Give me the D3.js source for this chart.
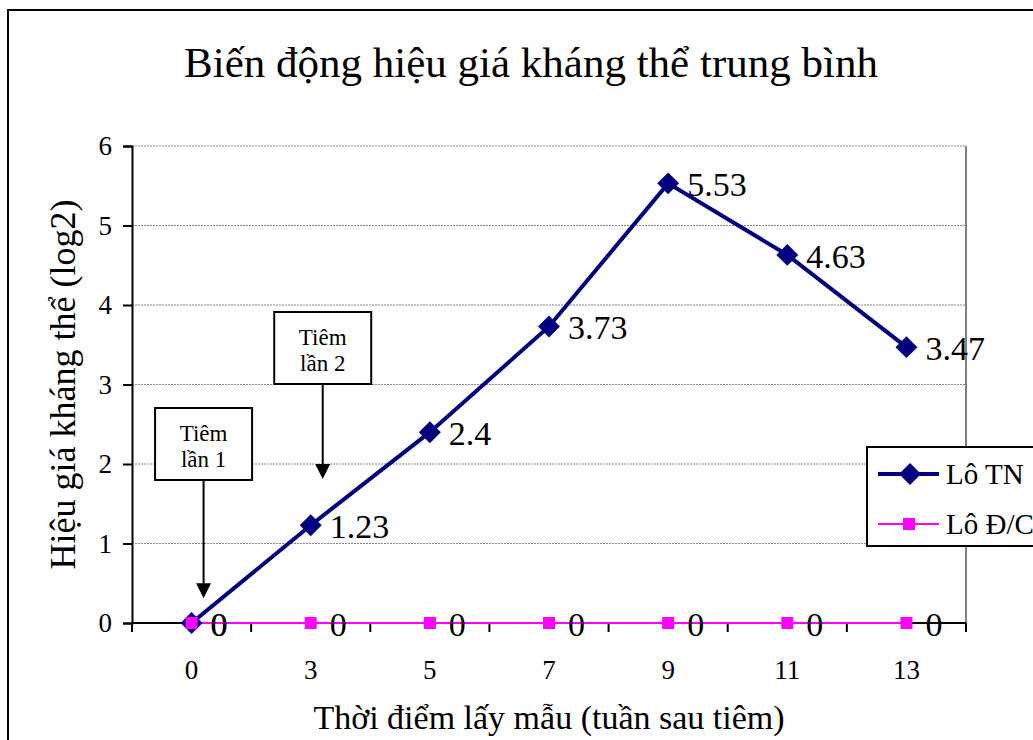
<!DOCTYPE html>
<html>
<head>
<meta charset="utf-8">
<script src="https://cdn.jsdelivr.net/npm/d3@7"></script>
<style>
  html, body { margin: 0; padding: 0; background: #fff; }
  svg { display: block; font-family: "Liberation Serif", "Times New Roman", serif; }
</style>
</head>
<body>
<svg id="chart" width="1033" height="740"></svg>
<script>
// Sampling times (weeks after vaccination)
const weeks = ["0", "3", "5", "7", "9", "11", "13"];
// Mean antibody titre (log2) per group
const loTN = [0, 1.23, 2.4, 3.73, 5.53, 4.63, 3.47];
const loDC = [0, 0, 0, 0, 0, 0, 0];
const yTicks = [0, 1, 2, 3, 4, 5, 6];
const seriesNames = ["Lô TN", "Lô Đ/C"];
// Injection markers: category and the titre level where the arrow points
const injections = [
  { week: "0", label: ["Tiêm", "lần 1"], at: 0.31, boxBottom: 480 },
  { week: "3", label: ["Tiêm", "lần 2"], at: 1.81, boxBottom: 384 }
];

const svg = d3.select("#chart");
const W = 1033, H = 740;

// Outer chart frame (runs off the right/bottom edges)
svg.append("rect")
  .attr("x", 8).attr("y", 10).attr("width", W + 20).attr("height", H + 20)
  .attr("fill", "none").attr("stroke", "#000").attr("stroke-width", 2);

const plot = { left: 132, top: 146, right: 966, bottom: 623 };

const x = d3.scaleBand().domain(weeks).range([plot.left, plot.right]).padding(0);
const y = d3.scaleLinear().domain([0, 6]).range([plot.bottom, plot.top]);
const cx = d => x(d) + x.bandwidth() / 2;

// Title
svg.append("text")
  .attr("x", 531).attr("y", 77)
  .attr("text-anchor", "middle")
  .attr("font-size", 43)
  .text("Biến động hiệu giá kháng thể trung bình");

// Gridlines
svg.append("g")
  .selectAll("line")
  .data(yTicks.filter(d => d > 0))
  .join("line")
  .attr("x1", plot.left).attr("x2", plot.right)
  .attr("y1", d => y(d)).attr("y2", d => y(d))
  .attr("stroke", "#888").attr("stroke-width", 1)
  .attr("stroke-dasharray", "2,1");

// Right border of plot area
svg.append("line")
  .attr("x1", plot.right).attr("x2", plot.right)
  .attr("y1", plot.top).attr("y2", plot.bottom)
  .attr("stroke", "#808080").attr("stroke-width", 2);

// Y axis
const yAxis = svg.append("g")
  .attr("transform", `translate(${plot.left},0)`)
  .call(d3.axisLeft(y).tickValues(yTicks).tickSize(9).tickPadding(11).tickFormat(d3.format("d")));
yAxis.select(".domain").attr("stroke", "#000").attr("stroke-width", 2);
yAxis.selectAll(".tick line").attr("stroke", "#000").attr("stroke-width", 2);
yAxis.selectAll("text").attr("font-size", 27).attr("font-family", "Liberation Serif").attr("fill", "#000");

// X axis: ticks on category boundaries
const boundaries = weeks.map(w => x(w)).concat([plot.right]);
const xg = svg.append("g");
xg.append("line")
  .attr("x1", plot.left).attr("x2", plot.right)
  .attr("y1", plot.bottom).attr("y2", plot.bottom)
  .attr("stroke", "#000").attr("stroke-width", 2);
xg.selectAll("line.tk")
  .data(boundaries)
  .join("line").attr("class", "tk")
  .attr("x1", d => d).attr("x2", d => d)
  .attr("y1", plot.bottom).attr("y2", plot.bottom + 9)
  .attr("stroke", "#000").attr("stroke-width", 2);
xg.selectAll("text")
  .data(weeks)
  .join("text")
  .attr("x", d => cx(d)).attr("y", 679)
  .attr("text-anchor", "middle")
  .attr("font-size", 27)
  .text(d => d);

// Axis titles
svg.append("text")
  .attr("x", 549).attr("y", 729)
  .attr("text-anchor", "middle")
  .attr("font-size", 34)
  .text("Thời điểm lấy mẫu (tuần sau tiêm)");
svg.append("text")
  .attr("transform", `translate(75,${(plot.top + plot.bottom) / 2}) rotate(-90)`)
  .attr("text-anchor", "middle")
  .attr("font-size", 36)
  .text("Hiệu giá kháng thể (log2)");

// Series lines
const line = d3.line().x((d, i) => cx(weeks[i])).y(d => y(d));
svg.append("path").datum(loDC).attr("d", line)
  .attr("fill", "none").attr("stroke", "#FF00FF").attr("stroke-width", 2);
svg.append("path").datum(loTN).attr("d", line)
  .attr("fill", "none").attr("stroke", "#000080").attr("stroke-width", 4);

// Markers
const diamondPath = d3.symbol().type(d3.symbolSquare).size(240);
svg.append("g").selectAll("path")
  .data(loTN).join("path")
  .attr("d", diamondPath)
  .attr("transform", (d, i) => `translate(${cx(weeks[i])},${y(d)}) rotate(45)`)
  .attr("fill", "#000080");
svg.append("g").selectAll("rect")
  .data(loDC).join("rect")
  .attr("x", (d, i) => cx(weeks[i]) - 6).attr("y", d => y(d) - 6)
  .attr("width", 12).attr("height", 12)
  .attr("fill", "#FF00FF");

// Data labels (same offset for both series so coinciding labels overlap exactly)
const labelDx = 19, labelDy = 13;
[loTN, loDC].forEach(series => {
  svg.append("g").selectAll("text")
    .data(series).join("text")
    .attr("x", (d, i) => cx(weeks[i]) + labelDx).attr("y", d => y(d) + labelDy)
    .attr("font-size", 34)
    .text(d => String(d));
});

// Injection callouts
const boxW = 97, boxH = 72;
injections.forEach(inj => {
  const ax = cx(inj.week) + 12;
  const tipY = y(inj.at);
  const g = svg.append("g");
  g.append("rect")
    .attr("x", ax - boxW / 2).attr("y", inj.boxBottom - boxH)
    .attr("width", boxW).attr("height", boxH)
    .attr("fill", "#fff").attr("stroke", "#000").attr("stroke-width", 2);
  inj.label.forEach((t, k) => {
    g.append("text")
      .attr("x", ax).attr("y", inj.boxBottom - boxH + 33 + k * 26)
      .attr("text-anchor", "middle").attr("font-size", 23)
      .text(t);
  });
  g.append("line")
    .attr("x1", ax).attr("x2", ax)
    .attr("y1", inj.boxBottom).attr("y2", tipY - 12)
    .attr("stroke", "#000").attr("stroke-width", 2);
  g.append("path")
    .attr("d", `M${ax - 7.5},${tipY - 15} L${ax + 7.5},${tipY - 15} L${ax},${tipY} Z`)
    .attr("fill", "#000");
});

// Legend
const lg = svg.append("g");
lg.append("rect")
  .attr("x", 867).attr("y", 447).attr("width", 200).attr("height", 99)
  .attr("fill", "#fff").attr("stroke", "#000").attr("stroke-width", 2);
const legendRows = [
  { name: seriesNames[0], color: "#000080", width: 4, marker: "diamond", yy: 474 },
  { name: seriesNames[1], color: "#FF00FF", width: 2, marker: "square", yy: 524 }
];
legendRows.forEach(r => {
  lg.append("line").attr("x1", 878).attr("x2", 939).attr("y1", r.yy).attr("y2", r.yy)
    .attr("stroke", r.color).attr("stroke-width", r.width);
  if (r.marker === "diamond") {
    lg.append("path")
      .attr("d", diamondPath)
      .attr("transform", `translate(910,${r.yy}) rotate(45)`)
      .attr("fill", r.color);
  } else {
    lg.append("rect").attr("x", 903).attr("y", r.yy - 6).attr("width", 12).attr("height", 12)
      .attr("fill", r.color);
  }
  lg.append("text").attr("x", 946).attr("y", r.yy + 10).attr("font-size", 29).text(r.name);
});
</script>
</body>
</html>
